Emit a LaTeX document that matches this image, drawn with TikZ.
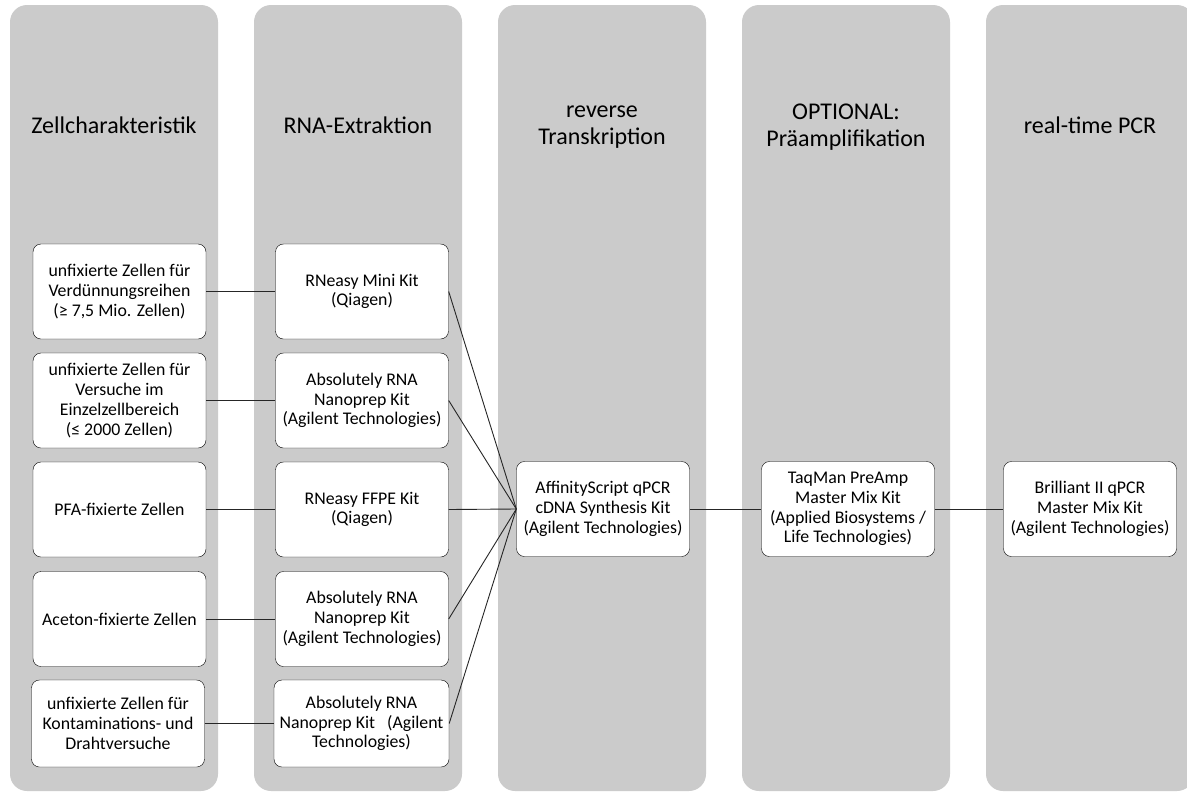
\documentclass[tikz,border=0pt]{standalone}
\usepackage{fontspec}
\setmainfont{Carlito}
\usetikzlibrary{positioning}
\definecolor{lanegray}{HTML}{CBCBCB}
\tikzset{%
       lane/.style = { fill=lanegray, rounded corners=17pt },
  lanetitle/.style = { font=\fontsize{24}{26.5}\selectfont, align=center },
     kitbox/.style = { draw, fill=white, rounded corners=8pt, minimum width=173pt,
                       minimum height=95pt, align=center, inner sep=2pt,
                       font=\fontsize{17.8}{19.7}\selectfont },
       link/.style = { black!85, line width=0.9pt }
}
\begin{document}
\begin{tikzpicture}[x=1pt,y=-1pt]
\clip (0,0) rectangle (1187,793);
% lanes
\foreach \xl in {10,254,498,742,986}
  \fill[lane] (\xl,5) rectangle ++(208,786);
% lane titles
\node[lanetitle] (title1) at (114,125) {Zellcharakteristik};
\node[lanetitle] (title2) at (358,125) {RNA-Extraktion};
\node[lanetitle] (title3) at (602,127) {reverse\\Transkription};
\node[lanetitle] (title4) at (846,127) {OPTIONAL:\\Präamplifikation};
\node[lanetitle] (title5) at (1090,125) {real-time PCR};
% cell types
\node[kitbox] (cell1) at (119.5,291.5) {unfixierte Zellen für\\Verdünnungsreihen\\(≥ 7,5 Mio. Zellen)};
\node[kitbox] (cell2) at (119.5,400.5) {unfixierte Zellen für\\Versuche im\\Einzelzellbereich\\(≤ 2000 Zellen)};
\node[kitbox] (cell3) at (119.5,509.5) {PFA-fixierte Zellen};
\node[kitbox] (cell4) at (119.5,619) {Aceton-fixierte Zellen};
\node[kitbox,minimum height=87pt] (cell5) at (118,723.5) {unfixierte Zellen für\\Kontaminations- und\\Drahtversuche};
% extraction kits
\node[kitbox] (rna1) at (362,291.5) {RNeasy Mini Kit\\(Qiagen)};
\node[kitbox] (rna2) at (362,400.5) {Absolutely RNA\\Nanoprep Kit\\(Agilent Technologies)};
\node[kitbox] (rna3) at (362,509.5) {RNeasy FFPE Kit\\(Qiagen)};
\node[kitbox] (rna4) at (362,619) {Absolutely RNA\\Nanoprep Kit\\(Agilent Technologies)};
\node[kitbox,minimum height=87pt,minimum width=175pt] (rna5) at (361.5,723.5) {Absolutely RNA\\Nanoprep Kit\ \ \ (Agilent\\Technologies)};
% later steps
\node[kitbox] (cdna) at (603,509) {AffinityScript qPCR\\cDNA Synthesis Kit\\(Agilent Technologies)};
\node[kitbox] (preamp) at (848,509) {TaqMan PreAmp\\Master Mix Kit\\(Applied Biosystems /\\Life Technologies)};
\node[kitbox] (qpcr) at (1090,509) {Brilliant II qPCR\\Master Mix Kit\\(Agilent Technologies)};
% connectors
\foreach \i in {1,...,5}{
  \draw[link] (cell\i) -- (rna\i);
  \draw[link] (rna\i.east) -- (cdna.west);
}
\draw[link] (cdna) -- (preamp);
\draw[link] (preamp) -- (qpcr);
\end{tikzpicture}
\end{document}
